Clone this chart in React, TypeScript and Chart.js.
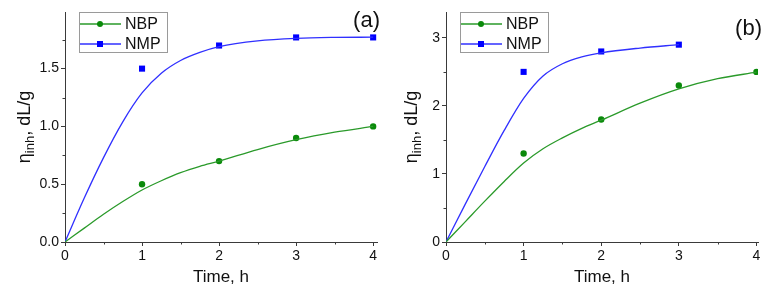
import React, { useEffect, useRef } from 'react';
import { Chart, registerables } from 'chart.js';
Chart.register(...registerables);

// ---------- data ----------
const seriesNames = ['NBP', 'NMP'];
const panelLabels = ['(a)', '(b)'];

// panel (a) measured points
const aTimeNBP = [1, 2, 3, 4];
const aNBP = [0.5, 0.7, 0.9, 1.0];
const aTimeNMP = [1, 2, 3, 4];
const aNMP = [1.5, 1.7, 1.77, 1.77];
// panel (a) fitted curves
const aFitTime = [0, 0.25, 0.5, 0.75, 1, 1.25, 1.5, 1.75, 2, 2.5, 3, 3.5, 4];
const aNBPFit = [0, 0.12, 0.24, 0.35, 0.45, 0.53, 0.6, 0.655, 0.7, 0.8, 0.885, 0.95, 1.0];
const aNMPFit = [0, 0.38, 0.73, 1.04, 1.29, 1.46, 1.57, 1.64, 1.69, 1.74, 1.762, 1.77, 1.772];

// panel (b) measured points
const bTimeNBP = [1, 2, 3, 4];
const bNBP = [1.3, 1.8, 2.3, 2.5];
const bTimeNMP = [1, 2, 3];
const bNMP = [2.5, 2.8, 2.9];
// panel (b) fitted curves
const bFitTimeNBP = [0, 0.25, 0.5, 0.75, 1, 1.25, 1.5, 1.75, 2, 2.5, 3, 3.5, 4];
const bNBPFit = [0, 0.3, 0.6, 0.89, 1.16, 1.37, 1.53, 1.67, 1.79, 2.04, 2.25, 2.4, 2.495];
const bFitTimeNMP = [0, 0.25, 0.5, 0.75, 1, 1.25, 1.5, 1.75, 2, 2.5, 3];
const bNMPFit = [0, 0.56, 1.11, 1.64, 2.11, 2.44, 2.62, 2.72, 2.78, 2.85, 2.9];

// ticks
const xTicks = [0, 1, 2, 3, 4];
const xMinorTicks = [0.5, 1.5, 2.5, 3.5];
const aYTicks = [0, 0.5, 1.0, 1.5];
const aYMinorTicks = [0.25, 0.75, 1.25, 1.75];
const bYTicks = [0, 1, 2, 3];
const bYMinorTicks = [0.5, 1.5, 2.5];

const GREEN = '#0a8a0a';
const GREEN_LINE = '#2a9a2a';
const BLUE = '#0000ff';
const BLUE_LINE = '#3030ff';
const AXIS = '#3a3a3a';
const FONT = "'Liberation Sans', Arial, sans-serif";

const pts = (xs: number[], ys: number[]) => xs.map((x, i) => ({ x, y: ys[i] }));

// ---------- plugins ----------
const minorTicksPlugin = {
  id: 'minorTicks',
  afterDraw(chart: any, _args: any, opts: any) {
    const ctx = chart.ctx;
    const xs = chart.scales.x;
    const ys = chart.scales.y;
    ctx.save();
    ctx.strokeStyle = AXIS;
    ctx.lineWidth = 1;
    ctx.beginPath();
    (opts.x || []).forEach((v: number) => {
      const px = Math.round(xs.getPixelForValue(v)) + 0.5;
      ctx.moveTo(px, xs.top);
      ctx.lineTo(px, xs.top + 2.5);
    });
    (opts.y || []).forEach((v: number) => {
      const py = Math.round(ys.getPixelForValue(v)) + 0.5;
      ctx.moveTo(ys.right, py);
      ctx.lineTo(ys.right - 2.5, py);
    });
    ctx.stroke();
    ctx.restore();
  },
};

const yTitlePlugin = {
  id: 'yTitle',
  afterDraw(chart: any, _args: any, opts: any) {
    const ctx = chart.ctx;
    const area = chart.chartArea;
    const cy = (area.top + area.bottom) / 2;
    ctx.save();
    ctx.translate(opts.x, cy);
    ctx.rotate(-Math.PI / 2);
    ctx.fillStyle = '#111';
    ctx.textBaseline = 'alphabetic';
    ctx.textAlign = 'left';
    const big = `18px ${FONT}`;
    const small = `13px ${FONT}`;
    ctx.font = big;
    const w1 = ctx.measureText('η').width;
    const w3 = ctx.measureText(', dL/g').width;
    ctx.font = small;
    const w2 = ctx.measureText('inh').width;
    const total = w1 + w2 + w3;
    let x = -total / 2;
    ctx.font = big;
    ctx.fillText('η', x, 0);
    x += w1;
    ctx.font = small;
    ctx.fillText('inh', x, 4);
    x += w2;
    ctx.font = big;
    ctx.fillText(', dL/g', x, 0);
    ctx.restore();
  },
};

const legendBoxPlugin = {
  id: 'legendBox',
  afterDraw(chart: any, _args: any, opts: any) {
    const ctx = chart.ctx;
    const area = chart.chartArea;
    const left = area.left + opts.dx;
    const top = area.top;
    const w = 88;
    const h = 40;
    ctx.save();
    ctx.strokeStyle = '#9a9a9a';
    ctx.lineWidth = 1;
    ctx.strokeRect(Math.round(left) + 0.5, Math.round(top) + 0.5, w, h);
    const entries = chart.data.datasets.filter((d: any) => d.legendEntry);
    entries.forEach((d: any, i: number) => {
      const y = top + 12 + i * 20;
      ctx.strokeStyle = d.legendLine;
      ctx.lineWidth = 1.3;
      ctx.beginPath();
      ctx.moveTo(left + 1, y);
      ctx.lineTo(left + 42, y);
      ctx.stroke();
      ctx.fillStyle = d.backgroundColor;
      if (d.pointStyle === 'rect') {
        ctx.fillRect(left + 21 - 3, y - 3, 6, 6);
      } else {
        ctx.beginPath();
        ctx.arc(left + 21, y, 3, 0, Math.PI * 2);
        ctx.fill();
      }
      ctx.fillStyle = '#111';
      ctx.font = `16px ${FONT}`;
      ctx.textBaseline = 'middle';
      ctx.textAlign = 'left';
      ctx.fillText(d.label, left + 46, y + 1);
    });
    ctx.restore();
  },
};

const panelLabelPlugin = {
  id: 'panelLabel',
  afterDraw(chart: any, _args: any, opts: any) {
    const ctx = chart.ctx;
    ctx.save();
    ctx.fillStyle = '#111';
    ctx.font = `22px ${FONT}`;
    ctx.textAlign = 'right';
    ctx.textBaseline = 'alphabetic';
    ctx.fillText(opts.text, opts.x, opts.y);
    ctx.restore();
  },
};

// ---------- panel ----------
type PanelProps = {
  label: string;
  timeNBP: number[];
  nbp: number[];
  timeNMP: number[];
  nmp: number[];
  fitTimeNBP: number[];
  nbpFit: number[];
  fitTimeNMP: number[];
  nmpFit: number[];
  yMax: number;
  xMax: number;
  yTicks: number[];
  yMinor: number[];
  yDecimals: number;
  yAxisWidth: number;
  padRight: number;
  titleX: number;
  labelX: number;
  labelY: number;
};

function Panel(p: PanelProps) {
  const ref = useRef<HTMLCanvasElement | null>(null);
  useEffect(() => {
    if (!ref.current) return;
    const chart = new Chart(ref.current, {
      type: 'scatter',
      data: {
        datasets: [
          {
            label: 'NBP fit',
            data: pts(p.fitTimeNBP, p.nbpFit),
            showLine: true,
            borderColor: GREEN_LINE,
            borderWidth: 1.3,
            pointRadius: 0,
            cubicInterpolationMode: 'monotone',
          } as any,
          {
            label: 'NMP fit',
            data: pts(p.fitTimeNMP, p.nmpFit),
            showLine: true,
            borderColor: BLUE_LINE,
            borderWidth: 1.3,
            pointRadius: 0,
            cubicInterpolationMode: 'monotone',
          } as any,
          {
            label: seriesNames[0],
            data: pts(p.timeNBP, p.nbp),
            showLine: false,
            pointStyle: 'circle',
            pointRadius: 3.2,
            backgroundColor: GREEN,
            borderColor: GREEN,
            borderWidth: 0,
            legendEntry: true,
            legendLine: GREEN_LINE,
          } as any,
          {
            label: seriesNames[1],
            data: pts(p.timeNMP, p.nmp),
            showLine: false,
            pointStyle: 'rect',
            pointRadius: 4.3,
            backgroundColor: BLUE,
            borderColor: BLUE,
            borderWidth: 0,
            legendEntry: true,
            legendLine: BLUE_LINE,
          } as any,
        ],
      },
      options: {
        animation: false,
        responsive: false,
        devicePixelRatio: 1,
        layout: { padding: { top: 12, right: p.padRight, left: 0, bottom: 0 } },
        plugins: {
          legend: { display: false },
          tooltip: { enabled: false },
          minorTicks: { x: xMinorTicks, y: p.yMinor },
          yTitle: { x: p.titleX },
          legendBox: { dx: 14 },
          panelLabel: { text: p.label, x: p.labelX, y: p.labelY },
        } as any,
        scales: {
          x: {
            type: 'linear',
            min: 0,
            max: p.xMax,
            afterBuildTicks: (s: any) => {
              s.ticks = xTicks.map((v) => ({ value: v }));
            },
            afterFit: (s: any) => {
              s.height = 53;
            },
            border: { display: true, color: AXIS, width: 1 },
            grid: { drawOnChartArea: false, tickLength: 4, tickColor: AXIS, tickWidth: 1 },
            ticks: {
              color: '#111',
              font: { family: FONT, size: 14 },
              padding: 2,
              maxRotation: 0,
              callback: (v: any) => String(v),
            },
            title: {
              display: true,
              text: 'Time, h',
              color: '#111',
              font: { family: FONT, size: 17 },
              padding: { top: 0, bottom: 7 },
            },
          },
          y: {
            type: 'linear',
            min: 0,
            max: p.yMax,
            afterBuildTicks: (s: any) => {
              s.ticks = p.yTicks.map((v) => ({ value: v }));
            },
            afterFit: (s: any) => {
              s.width = p.yAxisWidth;
            },
            border: { display: true, color: AXIS, width: 1 },
            grid: { drawOnChartArea: false, tickLength: 4, tickColor: AXIS, tickWidth: 1 },
            ticks: {
              color: '#111',
              font: { family: FONT, size: 14 },
              padding: 2,
              callback: (v: any) => Number(v).toFixed(p.yDecimals),
            },
          },
        },
      },
      plugins: [minorTicksPlugin, yTitlePlugin, legendBoxPlugin, panelLabelPlugin],
    } as any);
    return () => chart.destroy();
  }, []);
  return (
    <canvas
      ref={ref}
      width={386}
      height={295}
      style={{ width: 386, height: 295, display: 'block' }}
    />
  );
}

export default function App() {
  return (
    <div
      style={{
        position: 'absolute',
        left: 0,
        top: 0,
        width: 772,
        height: 295,
        display: 'flex',
        background: '#fff',
      }}
    >
      <Panel
        label={panelLabels[0]}
        timeNBP={aTimeNBP}
        nbp={aNBP}
        timeNMP={aTimeNMP}
        nmp={aNMP}
        fitTimeNBP={aFitTime}
        nbpFit={aNBPFit}
        fitTimeNMP={aFitTime}
        nmpFit={aNMPFit}
        yMax={1.99}
        xMax={4.05}
        yTicks={aYTicks}
        yMinor={aYMinorTicks}
        yDecimals={1}
        yAxisWidth={65}
        padRight={9}
        titleX={30}
        labelX={380}
        labelY={27}
      />
      <Panel
        label={panelLabels[1]}
        timeNBP={bTimeNBP}
        nbp={bNBP}
        timeNMP={bTimeNMP}
        nmp={bNMP}
        fitTimeNBP={bFitTimeNBP}
        nbpFit={bNBPFit}
        fitTimeNMP={bFitTimeNMP}
        nmpFit={bNMPFit}
        yMax={3.38}
        xMax={4.02}
        yTicks={bYTicks}
        yMinor={bYMinorTicks}
        yDecimals={0}
        yAxisWidth={60}
        padRight={14}
        titleX={31}
        labelX={376}
        labelY={35}
      />
    </div>
  );
}
